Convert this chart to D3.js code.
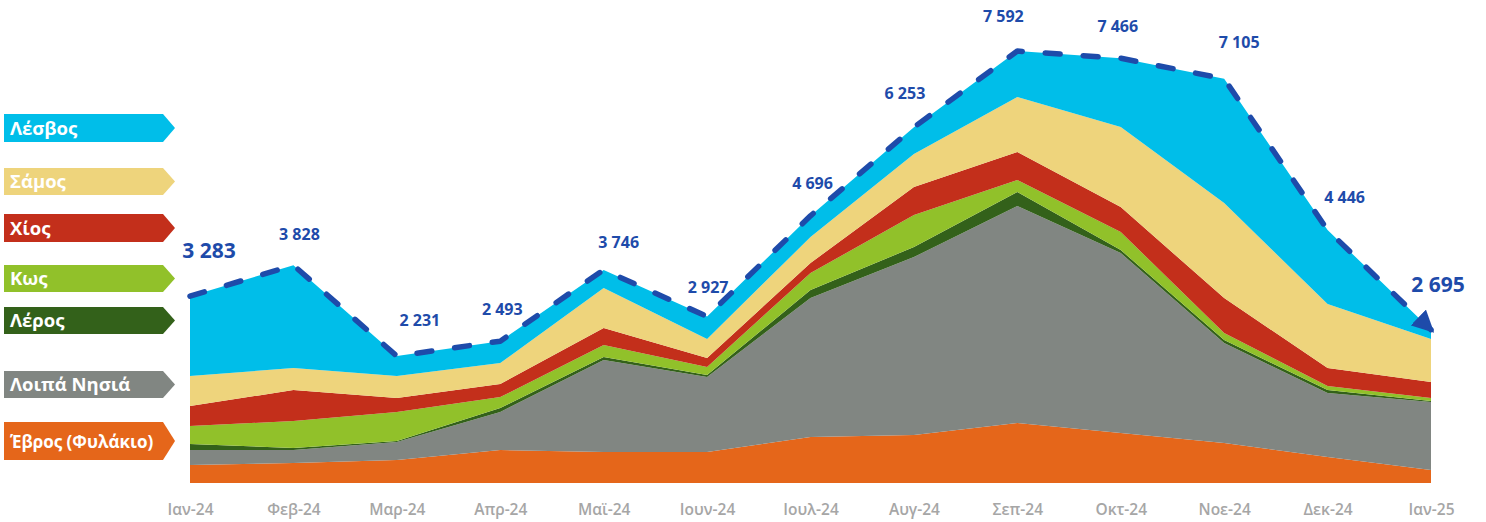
<!DOCTYPE html>
<html>
<head>
<meta charset="utf-8">
<script src="https://cdn.jsdelivr.net/npm/d3@7/dist/d3.min.js"></script>
<style>
  body { margin: 0; background: #fff; }
  svg { display: block; font-family: "Open Sans", "Noto Sans", sans-serif; }
</style>
</head>
<body>
<script>
// months on the x axis
var months = ["Ιαν-24", "Φεβ-24", "Μαρ-24", "Απρ-24", "Μαϊ-24", "Ιουν-24", "Ιουλ-24",
              "Αυγ-24", "Σεπ-24", "Οκτ-24", "Νοε-24", "Δεκ-24", "Ιαν-25"];

// series, bottom to top of the stack
var evros  = [316, 351, 404, 580, 545, 545, 808, 844, 1054, 879, 703, 457, 228];
var loipa  = [264, 228, 316, 668, 1617, 1318, 2443, 3128, 3814, 3163, 1757, 1125, 1195];
var leros  = [105, 35, 18, 70, 53, 35, 141, 176, 246, 53, 53, 53, 18];
var kos    = [316, 475, 510, 193, 211, 141, 299, 562, 211, 316, 123, 70, 53];
var chios  = [351, 545, 246, 228, 299, 158, 176, 492, 492, 439, 615, 316, 281];
var samos  = [527, 387, 387, 369, 703, 334, 457, 580, 967, 1406, 1670, 1125, 756];
var lesvos = [1404, 1807, 350, 385, 318, 396, 372, 471, 808, 1210, 2184, 1300, 164];

var totals = [3283, 3828, 2231, 2493, 3746, 2927, 4696, 6253, 7592, 7466, 7105, 4446, 2695];

var seriesNames = ["Έβρος (Φυλάκιο)", "Λοιπά Νησιά", "Λέρος", "Κως", "Χίος", "Σάμος", "Λέσβος"];
var seriesData = [evros, loipa, leros, kos, chios, samos, lesvos];
var colors = ["#E5661A", "#818682", "#33611A", "#91C12A", "#C32F1B", "#EED47C", "#00BEE9"];

var width = 1486, height = 522;
var blue = "#1E4BAA";

var svg = d3.select("body").append("svg").attr("width", width).attr("height", height);

var x = d3.scalePoint().domain(months).range([190, 1431]);
var y = d3.scaleLinear().domain([0, 8490]).range([483, 0]);

// build rows for d3.stack
var keys = seriesNames;
var rows = months.map(function(m, i) {
    var r = {month: m};
    keys.forEach(function(k, j) { r[k] = seriesData[j][i]; });
    return r;
});
var stacked = d3.stack().keys(keys)(rows);

var area = d3.area()
    .x(function(d) { return x(d.data.month); })
    .y0(function(d) { return y(d[0]); })
    .y1(function(d) { return y(d[1]); });

svg.append("g").selectAll("path")
    .data(stacked)
    .enter().append("path")
    .attr("d", area)
    .attr("fill", function(d, i) { return colors[i]; });

// dashed total line with arrow
var defs = svg.append("defs");
defs.append("marker")
    .attr("id", "arrow")
    .attr("viewBox", "0 0 10 10")
    .attr("refX", 8).attr("refY", 5)
    .attr("markerWidth", 4).attr("markerHeight", 4)
    .attr("markerUnits", "strokeWidth")
    .attr("orient", "auto")
    .append("path")
    .attr("d", "M0,0 L10,5 L0,10 z")
    .attr("fill", blue);

var totalLine = d3.line()
    .x(function(d, i) { return x(months[i]); })
    .y(function(d) { return y(d); });

svg.append("path")
    .attr("d", totalLine(totals))
    .attr("fill", "none")
    .attr("stroke", blue)
    .attr("stroke-width", 5.5)
    .attr("stroke-dasharray", "15,23")
    .attr("stroke-linecap", "round")
    .attr("stroke-linejoin", "round")
    .attr("marker-end", "url(#arrow)");

// total labels (hand nudged like in the original)
var nudge = [[19, -38], [6, -25], [23, -30], [2, -26], [15, -22], [1, -23], [2, -27],
             [-9, -28], [-14, -29], [-3, -26], [15, -31], [17, -27], [7, -38]];
var fmt = function(v) { return d3.format(",")(v).replace(",", " "); };

svg.append("g").selectAll("text")
    .data(totals)
    .enter().append("text")
    .attr("x", function(d, i) { return x(months[i]) + nudge[i][0]; })
    .attr("y", function(d, i) { return y(d) + nudge[i][1]; })
    .attr("text-anchor", "middle")
    .attr("fill", blue)
    .attr("font-weight", 700)
    .attr("font-size", function(d, i) { return (i === 0 || i === totals.length - 1) ? 21 : 16; })
    .text(fmt);

// x axis
var xAxis = d3.axisBottom(x).tickSize(0).tickPadding(21);
var gx = svg.append("g").attr("transform", "translate(0,483)").call(xAxis);
gx.select(".domain").remove();
gx.selectAll("text")
    .attr("fill", "#A6A6A6")
    .attr("font-size", 15.5)
    .attr("font-weight", 600)
    .style("font-family", "'Open Sans', sans-serif");

// legend tags on the left
var legendCY = [441, 384.5, 320.5, 278.5, 228, 181.5, 128];
var legendH = [38, 27, 27, 27, 28, 27, 28];
var legend = svg.append("g").selectAll("g")
    .data(seriesNames)
    .enter().append("g");

legend.append("path")
    .attr("d", function(d, i) {
        var t = legendCY[i] - legendH[i] / 2, b = legendCY[i] + legendH[i] / 2;
        return "M4," + t + " L163," + t + " L175," + legendCY[i] + " L163," + b + " L4," + b + " Z";
    })
    .attr("fill", function(d, i) { return colors[i]; });

legend.append("text")
    .attr("x", 10)
    .attr("y", function(d, i) { return legendCY[i] + 6.5; })
    .attr("fill", "#fff")
    .attr("font-weight", 700)
    .attr("font-size", function(d, i) { return i === 0 ? 17 : 18.5; })
    .text(function(d) { return d; });
</script>
</body>
</html>
